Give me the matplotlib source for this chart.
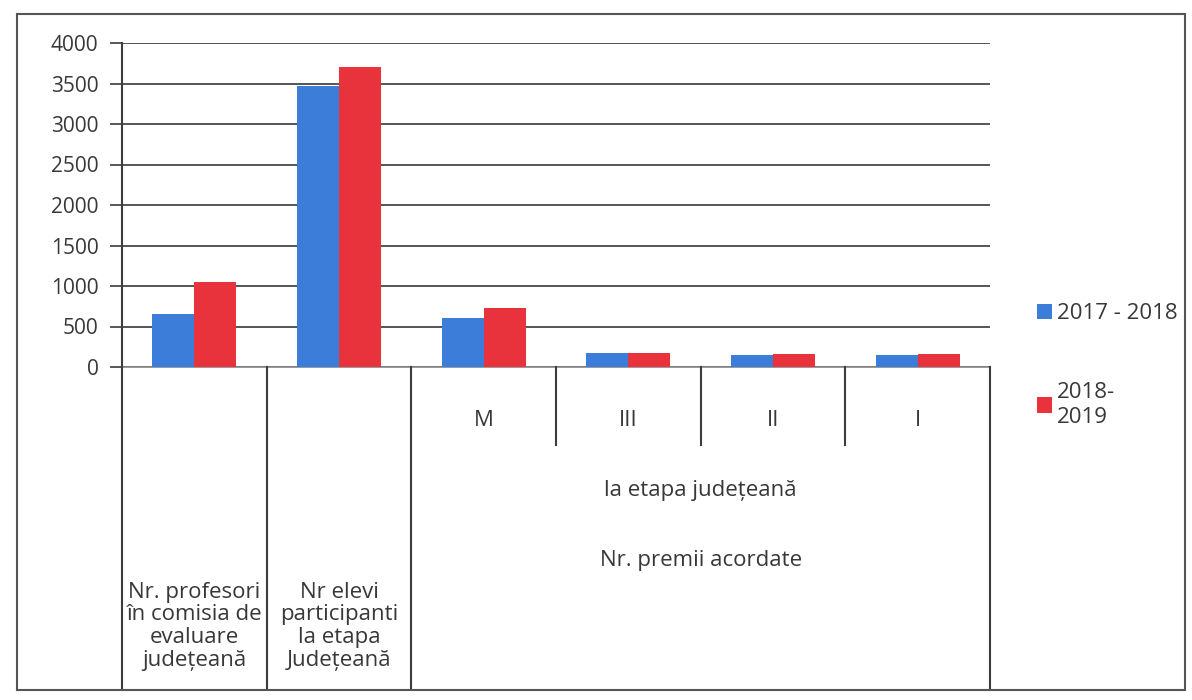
import numpy as np
import matplotlib.pyplot as plt
from matplotlib.patches import Rectangle

plt.rcParams['font.family'] = ['Open Sans', 'DejaVu Sans']

# data
categories = ["Nr. profesori\nîn comisia de\nevaluare\njudețeană",
              "Nr elevi\nparticipanti\nla etapa\nJudețeană",
              "M", "III", "II", "I"]
group_label = "la etapa județeană\n\n\nNr. premii acordate"
series_names = ["2017 - 2018", "2018-\n2019"]
values_2017 = [650, 3470, 600, 170, 150, 150]
values_2018 = [1050, 3700, 730, 175, 155, 155]
yticks = [0, 500, 1000, 1500, 2000, 2500, 3000, 3500, 4000]

blue = "#3b7dd8"
red = "#e8333d"
line_col = "#3c3c3c"
text_col = "#383838"
fs = 16

W, H = 1192, 700
fig = plt.figure(figsize=(W / 100, H / 100), dpi=100)
ax = fig.add_axes([122 / W, (H - 367) / H, (990 - 122) / W, (367 - 43) / H])

x = np.arange(len(categories))
bw = 0.29
ax.bar(x - bw / 2, values_2017, bw, color=blue, label=series_names[0], zorder=3)
ax.bar(x + bw / 2, values_2018, bw, color=red, label=series_names[1], zorder=3)

ax.set_xlim(-0.5, len(categories) - 0.5)
ax.set_ylim(0, 4000)
ax.set_yticks(yticks)
ax.set_yticklabels([str(t) for t in yticks], fontsize=fs - 1, color=text_col)
ax.set_xticks([])
ax.tick_params(axis='y', length=9, width=1.2, color=line_col, pad=8)
ax.yaxis.grid(True, color="#555555", linewidth=1.4, zorder=0)
for side in ['top', 'right', 'bottom']:
    ax.spines[side].set_visible(False)
ax.spines['left'].set_color(line_col)
ax.spines['left'].set_linewidth(1.5)

# category table under the axis (two levels, like excel)
tr = ax.get_xaxis_transform()
inner = -0.24
bottom = -0.99
ax.plot([-0.5, 5.5], [0, 0], color="#888888", lw=1.2, transform=tr, clip_on=False)
for b in [-0.5, 0.5, 1.5, 5.5]:
    ax.plot([b, b], [0, bottom], color=line_col, lw=1.5, transform=tr, clip_on=False)
for b in [2.5, 3.5, 4.5]:
    ax.plot([b, b], [0, inner], color=line_col, lw=1.5, transform=tr, clip_on=False)

for i in range(2):
    ax.text(x[i], -0.80, categories[i], transform=tr, ha='center', va='center',
            fontsize=fs, color=text_col, linespacing=1.1)
for i in range(2, len(categories)):
    ax.text(x[i], -0.165, categories[i], transform=tr, ha='center', va='center',
            fontsize=fs, color=text_col)
ax.text(x[2:].mean(), -0.49, group_label, transform=tr, ha='center', va='center',
        fontsize=fs, color=text_col, linespacing=1.15)

leg = fig.legend(loc='upper left', bbox_to_anchor=(1026 / W, 1 - 292 / H),
                 frameon=False, fontsize=fs, handlelength=0.68, handleheight=0.68,
                 handletextpad=0.2, labelspacing=2.6, borderpad=0)
for t in leg.get_texts():
    t.set_color(text_col)
    t.set_linespacing(1.25)

# outer chart border
fig.patches.append(Rectangle((17 / W, 1 - 690 / H), (1185 - 17) / W, (690 - 14) / H,
                             transform=fig.transFigure, fill=False,
                             edgecolor="#555555", linewidth=1.5))

fig.savefig("out.png", dpi=100)
